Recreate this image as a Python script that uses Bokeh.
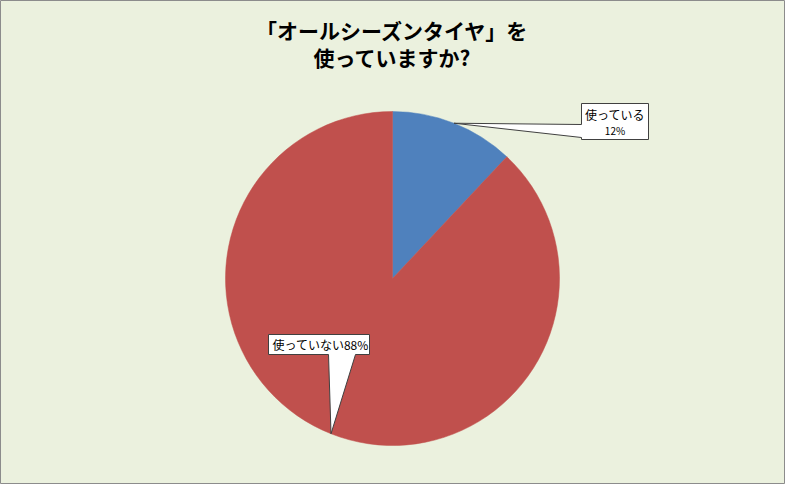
import numpy as np
from bokeh.core.properties import value
from bokeh.embed import file_html
from bokeh.models import Range1d
from bokeh.plotting import figure
from bokeh.resources import INLINE

# data
categories = ["使っている", "使っていない"]
shares = [12, 88]
colors = ["#4F81BD", "#C0504D"]
title_lines = ["「オールシーズンタイヤ」を", "使っていますか?"]

W, H = 785, 484
FONT = "Noto Sans CJK JP"

p = figure(width=W, height=H, x_range=Range1d(0, W), y_range=Range1d(0, H),
           output_backend="svg", toolbar_location=None, min_border=0)
p.axis.visible = False
p.grid.visible = False
p.background_fill_color = "#EBF1DE"
p.border_fill_color = "#EBF1DE"
p.outline_line_color = "#8C8C8C"

# pie, clockwise from 12 o'clock
cx, cy, r = 392, 206, 167
frac = np.array(shares) / sum(shares)
ends = np.cumsum(frac)
starts = ends - frac
start_ang = np.pi / 2 - starts * 2 * np.pi
end_ang = np.pi / 2 - ends * 2 * np.pi
p.wedge(x=cx, y=cy, radius=r, start_angle=start_ang, end_angle=end_ang,
        direction="clock", fill_color=colors, line_color=colors, line_width=0.5)

# callout tips at slice midpoints
mid = np.pi / 2 - (starts + frac / 2) * 2 * np.pi
tx = cx + r * np.cos(mid)
ty = cy + r * np.sin(mid)

# callout 1 (使っている) - box to the upper right
b1 = dict(l=581, r=648, b=345, t=381)
xs1 = [b1["l"], b1["r"], b1["r"], b1["l"], b1["l"], tx[0], b1["l"]]
ys1 = [b1["t"], b1["t"], b1["b"], b1["b"], 347, ty[0], 360]
# callout 2 (使っていない) - box to the lower left
b2 = dict(l=268, r=369, b=130, t=150)
xs2 = [b2["l"], b2["r"], b2["r"], 355, tx[1], 328, b2["l"]]
ys2 = [b2["t"], b2["t"], b2["b"], b2["b"], ty[1], b2["b"], b2["b"]]
p.patches(xs=[xs1, xs2], ys=[ys1, ys2], fill_color="white",
          line_color="#404040", line_width=1)

labels = [f"{s}%" for s in shares]
p.text(x=[(b1["l"] + b1["r"]) / 2], y=[370], text=[categories[0]],
       text_font=value(FONT), text_font_size="12px", text_align="center",
       text_baseline="middle", text_color="black")
p.text(x=[(b1["l"] + b1["r"]) / 2], y=[354], text=[labels[0]],
       text_font=value(FONT), text_font_size="10px", text_align="center",
       text_baseline="middle", text_color="black")
p.text(x=[272], y=[140], text=[categories[1] + labels[1]],
       text_font=value(FONT), text_font_size="12px", text_align="left",
       text_baseline="middle", text_color="black")

# title
p.text(x=[392, 392], y=[455, 428], text=title_lines,
       text_font=value(FONT), text_font_size="21px", text_font_style="bold",
       text_align="center", text_baseline="middle", text_color="black")

open("out.html", "w").write(file_html(p, INLINE))
